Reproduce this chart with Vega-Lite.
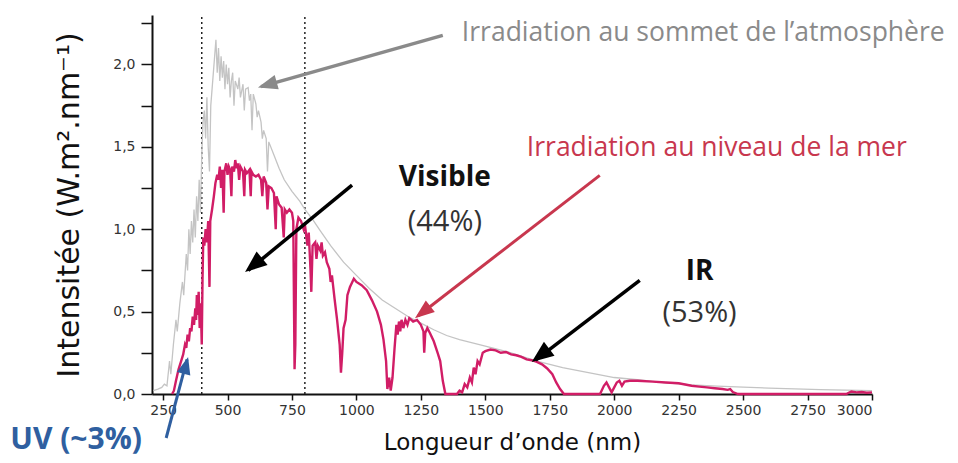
{
  "$schema": "https://vega.github.io/schema/vega-lite/v6.json",
  "width": 720,
  "height": 379,
  "autosize": "none",
  "padding": {"left": 152, "top": 15, "right": 86, "bottom": 69},
  "background": "white",
  "config": {
    "view": {"stroke": null},
    "axis": {"grid": false, "domainColor": "#111", "domainWidth": 2, "tickColor": "#111", "tickWidth": 1.5, "labelFont": "DejaVu Sans", "labelFontSize": 14, "labelColor": "#333", "titleFont": "DejaVu Sans", "titleFontWeight": "normal", "titleColor": "#111", "labelOverlap": false}
  },
  "datasets": {
    "spectre": [
      {"s": "sommet", "x": 212, "y": 0.02}, {"s": "sommet", "x": 230, "y": 0.03}, {"s": "sommet", "x": 245, "y": 0.04}, {"s": "sommet", "x": 255, "y": 0.06}, {"s": "sommet", "x": 265, "y": 0.05}, {"s": "sommet", "x": 275, "y": 0.2}, {"s": "sommet", "x": 280, "y": 0.12}, {"s": "sommet", "x": 290, "y": 0.3}, {"s": "sommet", "x": 300, "y": 0.45}, {"s": "sommet", "x": 305, "y": 0.38}, {"s": "sommet", "x": 315, "y": 0.55}, {"s": "sommet", "x": 325, "y": 0.68}, {"s": "sommet", "x": 330, "y": 0.6}, {"s": "sommet", "x": 340, "y": 0.85}, {"s": "sommet", "x": 345, "y": 0.75}, {"s": "sommet", "x": 350, "y": 1.0}, {"s": "sommet", "x": 355, "y": 0.85}, {"s": "sommet", "x": 360, "y": 1.05}, {"s": "sommet", "x": 365, "y": 0.92}, {"s": "sommet", "x": 370, "y": 1.12}, {"s": "sommet", "x": 375, "y": 0.95}, {"s": "sommet", "x": 380, "y": 1.2}, {"s": "sommet", "x": 385, "y": 1.05}, {"s": "sommet", "x": 390, "y": 1.3}, {"s": "sommet", "x": 395, "y": 1.1}, {"s": "sommet", "x": 400, "y": 1.45}, {"s": "sommet", "x": 405, "y": 1.65}, {"s": "sommet", "x": 410, "y": 1.72}, {"s": "sommet", "x": 415, "y": 1.55}, {"s": "sommet", "x": 420, "y": 1.8}, {"s": "sommet", "x": 425, "y": 1.5}, {"s": "sommet", "x": 430, "y": 1.35}, {"s": "sommet", "x": 435, "y": 1.75}, {"s": "sommet", "x": 440, "y": 1.85}, {"s": "sommet", "x": 450, "y": 2.05}, {"s": "sommet", "x": 455, "y": 2.15}, {"s": "sommet", "x": 460, "y": 1.95}, {"s": "sommet", "x": 465, "y": 2.1}, {"s": "sommet", "x": 470, "y": 1.9}, {"s": "sommet", "x": 475, "y": 2.05}, {"s": "sommet", "x": 480, "y": 1.92}, {"s": "sommet", "x": 485, "y": 2.02}, {"s": "sommet", "x": 490, "y": 1.85}, {"s": "sommet", "x": 495, "y": 2.0}, {"s": "sommet", "x": 500, "y": 1.88}, {"s": "sommet", "x": 505, "y": 1.98}, {"s": "sommet", "x": 510, "y": 1.8}, {"s": "sommet", "x": 515, "y": 1.9}, {"s": "sommet", "x": 520, "y": 1.95}, {"s": "sommet", "x": 525, "y": 1.75}, {"s": "sommet", "x": 530, "y": 1.9}, {"s": "sommet", "x": 540, "y": 1.85}, {"s": "sommet", "x": 545, "y": 1.92}, {"s": "sommet", "x": 550, "y": 1.8}, {"s": "sommet", "x": 560, "y": 1.88}, {"s": "sommet", "x": 565, "y": 1.72}, {"s": "sommet", "x": 570, "y": 1.85}, {"s": "sommet", "x": 580, "y": 1.86}, {"s": "sommet", "x": 585, "y": 1.78}, {"s": "sommet", "x": 590, "y": 1.82}, {"s": "sommet", "x": 595, "y": 1.6}, {"s": "sommet", "x": 600, "y": 1.82}, {"s": "sommet", "x": 610, "y": 1.76}, {"s": "sommet", "x": 615, "y": 1.68}, {"s": "sommet", "x": 620, "y": 1.72}, {"s": "sommet", "x": 630, "y": 1.65}, {"s": "sommet", "x": 635, "y": 1.55}, {"s": "sommet", "x": 640, "y": 1.6}, {"s": "sommet", "x": 650, "y": 1.55}, {"s": "sommet", "x": 655, "y": 1.35}, {"s": "sommet", "x": 660, "y": 1.53}, {"s": "sommet", "x": 680, "y": 1.45}, {"s": "sommet", "x": 700, "y": 1.37}, {"s": "sommet", "x": 720, "y": 1.3}, {"s": "sommet", "x": 750, "y": 1.23}, {"s": "sommet", "x": 780, "y": 1.17}, {"s": "sommet", "x": 800, "y": 1.12}, {"s": "sommet", "x": 830, "y": 1.06}, {"s": "sommet", "x": 860, "y": 0.99}, {"s": "sommet", "x": 900, "y": 0.9}, {"s": "sommet", "x": 950, "y": 0.8}, {"s": "sommet", "x": 1000, "y": 0.72}, {"s": "sommet", "x": 1050, "y": 0.64}, {"s": "sommet", "x": 1100, "y": 0.57}, {"s": "sommet", "x": 1150, "y": 0.52}, {"s": "sommet", "x": 1200, "y": 0.47}, {"s": "sommet", "x": 1250, "y": 0.43}, {"s": "sommet", "x": 1300, "y": 0.39}, {"s": "sommet", "x": 1350, "y": 0.355}, {"s": "sommet", "x": 1400, "y": 0.33}, {"s": "sommet", "x": 1450, "y": 0.31}, {"s": "sommet", "x": 1500, "y": 0.29}, {"s": "sommet", "x": 1600, "y": 0.25}, {"s": "sommet", "x": 1700, "y": 0.2}, {"s": "sommet", "x": 1800, "y": 0.16}, {"s": "sommet", "x": 1900, "y": 0.13}, {"s": "sommet", "x": 2000, "y": 0.1}, {"s": "sommet", "x": 2100, "y": 0.085}, {"s": "sommet", "x": 2200, "y": 0.068}, {"s": "sommet", "x": 2300, "y": 0.055}, {"s": "sommet", "x": 2400, "y": 0.048}, {"s": "sommet", "x": 2500, "y": 0.042}, {"s": "sommet", "x": 2600, "y": 0.036}, {"s": "sommet", "x": 2700, "y": 0.031}, {"s": "sommet", "x": 2800, "y": 0.027}, {"s": "sommet", "x": 2900, "y": 0.024}, {"s": "sommet", "x": 3000, "y": 0.02},
      {"s": "mer", "x": 285, "y": 0}, {"s": "mer", "x": 292, "y": 0.02}, {"s": "mer", "x": 300, "y": 0.08}, {"s": "mer", "x": 310, "y": 0.15}, {"s": "mer", "x": 320, "y": 0.2}, {"s": "mer", "x": 328, "y": 0.24}, {"s": "mer", "x": 335, "y": 0.3}, {"s": "mer", "x": 340, "y": 0.28}, {"s": "mer", "x": 345, "y": 0.36}, {"s": "mer", "x": 350, "y": 0.32}, {"s": "mer", "x": 355, "y": 0.4}, {"s": "mer", "x": 360, "y": 0.38}, {"s": "mer", "x": 365, "y": 0.47}, {"s": "mer", "x": 370, "y": 0.42}, {"s": "mer", "x": 375, "y": 0.52}, {"s": "mer", "x": 378, "y": 0.45}, {"s": "mer", "x": 381, "y": 0.6}, {"s": "mer", "x": 385, "y": 0.48}, {"s": "mer", "x": 388, "y": 0.62}, {"s": "mer", "x": 392, "y": 0.4}, {"s": "mer", "x": 396, "y": 0.55}, {"s": "mer", "x": 400, "y": 0.3}, {"s": "mer", "x": 403, "y": 0.7}, {"s": "mer", "x": 406, "y": 0.95}, {"s": "mer", "x": 410, "y": 0.9}, {"s": "mer", "x": 415, "y": 1.0}, {"s": "mer", "x": 420, "y": 0.92}, {"s": "mer", "x": 425, "y": 1.05}, {"s": "mer", "x": 430, "y": 0.65}, {"s": "mer", "x": 433, "y": 1.05}, {"s": "mer", "x": 440, "y": 1.12}, {"s": "mer", "x": 447, "y": 1.2}, {"s": "mer", "x": 453, "y": 1.28}, {"s": "mer", "x": 460, "y": 1.33}, {"s": "mer", "x": 465, "y": 1.3}, {"s": "mer", "x": 470, "y": 1.38}, {"s": "mer", "x": 475, "y": 1.25}, {"s": "mer", "x": 480, "y": 1.36}, {"s": "mer", "x": 485, "y": 1.1}, {"s": "mer", "x": 488, "y": 1.35}, {"s": "mer", "x": 495, "y": 1.4}, {"s": "mer", "x": 500, "y": 1.33}, {"s": "mer", "x": 505, "y": 1.38}, {"s": "mer", "x": 510, "y": 1.36}, {"s": "mer", "x": 515, "y": 1.2}, {"s": "mer", "x": 518, "y": 1.38}, {"s": "mer", "x": 525, "y": 1.35}, {"s": "mer", "x": 530, "y": 1.42}, {"s": "mer", "x": 535, "y": 1.37}, {"s": "mer", "x": 540, "y": 1.4}, {"s": "mer", "x": 545, "y": 1.3}, {"s": "mer", "x": 550, "y": 1.38}, {"s": "mer", "x": 560, "y": 1.35}, {"s": "mer", "x": 565, "y": 1.2}, {"s": "mer", "x": 568, "y": 1.36}, {"s": "mer", "x": 575, "y": 1.34}, {"s": "mer", "x": 585, "y": 1.36}, {"s": "mer", "x": 590, "y": 1.2}, {"s": "mer", "x": 593, "y": 1.35}, {"s": "mer", "x": 600, "y": 1.33}, {"s": "mer", "x": 610, "y": 1.32}, {"s": "mer", "x": 620, "y": 1.33}, {"s": "mer", "x": 630, "y": 1.3}, {"s": "mer", "x": 635, "y": 1.2}, {"s": "mer", "x": 640, "y": 1.32}, {"s": "mer", "x": 650, "y": 1.28}, {"s": "mer", "x": 655, "y": 1.12}, {"s": "mer", "x": 660, "y": 1.26}, {"s": "mer", "x": 670, "y": 1.25}, {"s": "mer", "x": 680, "y": 1.22}, {"s": "mer", "x": 687, "y": 1.0}, {"s": "mer", "x": 690, "y": 1.2}, {"s": "mer", "x": 700, "y": 1.15}, {"s": "mer", "x": 710, "y": 1.13}, {"s": "mer", "x": 718, "y": 0.95}, {"s": "mer", "x": 722, "y": 1.12}, {"s": "mer", "x": 730, "y": 1.1}, {"s": "mer", "x": 740, "y": 1.12}, {"s": "mer", "x": 750, "y": 1.1}, {"s": "mer", "x": 755, "y": 1.05}, {"s": "mer", "x": 760, "y": 0.15}, {"s": "mer", "x": 763, "y": 0.3}, {"s": "mer", "x": 767, "y": 1.0}, {"s": "mer", "x": 775, "y": 1.07}, {"s": "mer", "x": 785, "y": 1.05}, {"s": "mer", "x": 795, "y": 1.0}, {"s": "mer", "x": 800, "y": 1.03}, {"s": "mer", "x": 810, "y": 0.9}, {"s": "mer", "x": 815, "y": 0.98}, {"s": "mer", "x": 822, "y": 0.75}, {"s": "mer", "x": 825, "y": 0.62}, {"s": "mer", "x": 830, "y": 0.9}, {"s": "mer", "x": 840, "y": 0.92}, {"s": "mer", "x": 845, "y": 0.82}, {"s": "mer", "x": 850, "y": 0.9}, {"s": "mer", "x": 860, "y": 0.87}, {"s": "mer", "x": 865, "y": 0.92}, {"s": "mer", "x": 870, "y": 0.84}, {"s": "mer", "x": 878, "y": 0.86}, {"s": "mer", "x": 885, "y": 0.8}, {"s": "mer", "x": 895, "y": 0.76}, {"s": "mer", "x": 900, "y": 0.68}, {"s": "mer", "x": 905, "y": 0.72}, {"s": "mer", "x": 915, "y": 0.58}, {"s": "mer", "x": 925, "y": 0.45}, {"s": "mer", "x": 935, "y": 0.3}, {"s": "mer", "x": 940, "y": 0.13}, {"s": "mer", "x": 945, "y": 0.25}, {"s": "mer", "x": 950, "y": 0.4}, {"s": "mer", "x": 958, "y": 0.45}, {"s": "mer", "x": 965, "y": 0.6}, {"s": "mer", "x": 975, "y": 0.65}, {"s": "mer", "x": 990, "y": 0.7}, {"s": "mer", "x": 1000, "y": 0.68}, {"s": "mer", "x": 1020, "y": 0.66}, {"s": "mer", "x": 1040, "y": 0.63}, {"s": "mer", "x": 1060, "y": 0.57}, {"s": "mer", "x": 1080, "y": 0.5}, {"s": "mer", "x": 1095, "y": 0.42}, {"s": "mer", "x": 1105, "y": 0.33}, {"s": "mer", "x": 1115, "y": 0.2}, {"s": "mer", "x": 1120, "y": 0.03}, {"s": "mer", "x": 1127, "y": 0.1}, {"s": "mer", "x": 1133, "y": 0.02}, {"s": "mer", "x": 1140, "y": 0.1}, {"s": "mer", "x": 1148, "y": 0.28}, {"s": "mer", "x": 1152, "y": 0.36}, {"s": "mer", "x": 1155, "y": 0.42}, {"s": "mer", "x": 1160, "y": 0.36}, {"s": "mer", "x": 1165, "y": 0.44}, {"s": "mer", "x": 1170, "y": 0.38}, {"s": "mer", "x": 1175, "y": 0.45}, {"s": "mer", "x": 1182, "y": 0.4}, {"s": "mer", "x": 1190, "y": 0.45}, {"s": "mer", "x": 1198, "y": 0.42}, {"s": "mer", "x": 1205, "y": 0.46}, {"s": "mer", "x": 1220, "y": 0.44}, {"s": "mer", "x": 1235, "y": 0.45}, {"s": "mer", "x": 1250, "y": 0.42}, {"s": "mer", "x": 1260, "y": 0.38}, {"s": "mer", "x": 1263, "y": 0.25}, {"s": "mer", "x": 1267, "y": 0.37}, {"s": "mer", "x": 1275, "y": 0.4}, {"s": "mer", "x": 1285, "y": 0.37}, {"s": "mer", "x": 1300, "y": 0.32}, {"s": "mer", "x": 1315, "y": 0.25}, {"s": "mer", "x": 1325, "y": 0.2}, {"s": "mer", "x": 1335, "y": 0.08}, {"s": "mer", "x": 1345, "y": 0.0}, {"s": "mer", "x": 1390, "y": 0.0}, {"s": "mer", "x": 1400, "y": 0.02}, {"s": "mer", "x": 1410, "y": 0.01}, {"s": "mer", "x": 1420, "y": 0.06}, {"s": "mer", "x": 1430, "y": 0.04}, {"s": "mer", "x": 1440, "y": 0.1}, {"s": "mer", "x": 1448, "y": 0.07}, {"s": "mer", "x": 1455, "y": 0.16}, {"s": "mer", "x": 1462, "y": 0.12}, {"s": "mer", "x": 1470, "y": 0.2}, {"s": "mer", "x": 1478, "y": 0.18}, {"s": "mer", "x": 1490, "y": 0.25}, {"s": "mer", "x": 1500, "y": 0.26}, {"s": "mer", "x": 1520, "y": 0.27}, {"s": "mer", "x": 1540, "y": 0.265}, {"s": "mer", "x": 1560, "y": 0.25}, {"s": "mer", "x": 1580, "y": 0.255}, {"s": "mer", "x": 1600, "y": 0.24}, {"s": "mer", "x": 1620, "y": 0.235}, {"s": "mer", "x": 1640, "y": 0.225}, {"s": "mer", "x": 1660, "y": 0.21}, {"s": "mer", "x": 1680, "y": 0.205}, {"s": "mer", "x": 1700, "y": 0.195}, {"s": "mer", "x": 1720, "y": 0.18}, {"s": "mer", "x": 1740, "y": 0.155}, {"s": "mer", "x": 1760, "y": 0.12}, {"s": "mer", "x": 1775, "y": 0.07}, {"s": "mer", "x": 1790, "y": 0.03}, {"s": "mer", "x": 1805, "y": 0.0}, {"s": "mer", "x": 1945, "y": 0.0}, {"s": "mer", "x": 1960, "y": 0.05}, {"s": "mer", "x": 1970, "y": 0.07}, {"s": "mer", "x": 1980, "y": 0.04}, {"s": "mer", "x": 1990, "y": 0.01}, {"s": "mer", "x": 2000, "y": 0.04}, {"s": "mer", "x": 2010, "y": 0.07}, {"s": "mer", "x": 2020, "y": 0.08}, {"s": "mer", "x": 2030, "y": 0.05}, {"s": "mer", "x": 2040, "y": 0.075}, {"s": "mer", "x": 2060, "y": 0.08}, {"s": "mer", "x": 2090, "y": 0.08}, {"s": "mer", "x": 2150, "y": 0.075}, {"s": "mer", "x": 2200, "y": 0.07}, {"s": "mer", "x": 2250, "y": 0.065}, {"s": "mer", "x": 2300, "y": 0.05}, {"s": "mer", "x": 2330, "y": 0.045}, {"s": "mer", "x": 2360, "y": 0.04}, {"s": "mer", "x": 2390, "y": 0.035}, {"s": "mer", "x": 2420, "y": 0.03}, {"s": "mer", "x": 2440, "y": 0.025}, {"s": "mer", "x": 2450, "y": 0.03}, {"s": "mer", "x": 2460, "y": 0.012}, {"s": "mer", "x": 2480, "y": 0.0}, {"s": "mer", "x": 2900, "y": 0.0}, {"s": "mer", "x": 2920, "y": 0.015}, {"s": "mer", "x": 2940, "y": 0.01}, {"s": "mer", "x": 2960, "y": 0.012}, {"s": "mer", "x": 2980, "y": 0.008}, {"s": "mer", "x": 3000, "y": 0.01}
    ]
  },
  "layer": [
    {
      "data": {"values": [{"x": 400}, {"x": 800}]},
      "mark": {"type": "rule", "color": "#222", "strokeWidth": 1.5, "strokeDash": [2, 3]},
      "encoding": {
        "x": {"field": "x", "type": "quantitative", "scale": {"domain": [207, 3000], "nice": false, "zero": false},
          "axis": {"values": [250, 375, 500, 625, 750, 875, 1000, 1125, 1250, 1375, 1500, 1625, 1750, 1875, 2000, 2125, 2250, 2375, 2500, 2625, 2750, 2875, 3000],
            "labelExpr": "datum.value % 250 == 0 ? datum.value : ''", "tickSize": 6, "labelPadding": 3, "labelFontSize": 14,
            "title": "Longueur d’onde (nm)", "titleFontSize": 23, "titlePadding": 14}},
        "y": {"datum": 0, "type": "quantitative", "scale": {"domain": [0, 2.3], "nice": false},
          "axis": {"values": [0, 0.25, 0.5, 0.75, 1, 1.25, 1.5, 1.75, 2, 2.25],
            "labelExpr": "datum.value % 0.5 == 0 ? replace(format(datum.value, '.1f'), '.', ',') : ''", "tickSize": 11, "labelPadding": 6, "labelFontSize": 14,
            "title": "Intensitée (W.m².nm⁻¹)", "titleFontSize": 30, "titlePadding": 28}},
        "y2": {"datum": 2.3}
      }
    },
    {
      "data": {"name": "spectre"},
      "transform": [{"filter": "datum.s == 'sommet'"}],
      "mark": {"type": "line", "color": "#c4c4c4", "strokeWidth": 1.3},
      "encoding": {"x": {"field": "x", "type": "quantitative"}, "y": {"field": "y", "type": "quantitative"}}
    },
    {
      "data": {"name": "spectre"},
      "transform": [{"filter": "datum.s == 'mer'"}],
      "mark": {"type": "line", "color": "#d11d66", "strokeWidth": 2.4},
      "encoding": {"x": {"field": "x", "type": "quantitative"}, "y": {"field": "y", "type": "quantitative"}}
    },
    {
      "data": {"values": [{"x": 1335, "y": 2.176, "x2": 630, "y2": 1.865}]},
      "mark": {"type": "rule", "color": "#8a8a8a", "strokeWidth": 3.5},
      "encoding": {"x": {"field": "x", "type": "quantitative"}, "y": {"field": "y", "type": "quantitative"}, "x2": {"field": "x2"}, "y2": {"field": "y2"}}
    },
    {
      "data": {"values": [{"x": 618, "y": 1.86}]},
      "mark": {"type": "point", "filled": true, "opacity": 1, "color": "#8a8a8a", "shape": "M0,0 L-0.75,2 L0.75,2 Z", "size": 380, "angle": 254},
      "encoding": {"x": {"field": "x", "type": "quantitative"}, "y": {"field": "y", "type": "quantitative"}}
    },
    {
      "data": {"values": [{"x": 1944, "y": 1.327, "x2": 1240, "y2": 0.475}]},
      "mark": {"type": "rule", "color": "#c8374e", "strokeWidth": 3},
      "encoding": {"x": {"field": "x", "type": "quantitative"}, "y": {"field": "y", "type": "quantitative"}, "x2": {"field": "x2"}, "y2": {"field": "y2"}}
    },
    {
      "data": {"values": [{"x": 1227, "y": 0.46}]},
      "mark": {"type": "point", "filled": true, "opacity": 1, "color": "#c8374e", "shape": "M0,0 L-0.75,2 L0.75,2 Z", "size": 380, "angle": 232},
      "encoding": {"x": {"field": "x", "type": "quantitative"}, "y": {"field": "y", "type": "quantitative"}}
    },
    {
      "data": {"values": [{"x": 983, "y": 1.267, "x2": 580, "y2": 0.75}, {"x": 2099, "y": 0.69, "x2": 1695, "y2": 0.205}]},
      "mark": {"type": "rule", "color": "#000", "strokeWidth": 3.5},
      "encoding": {"x": {"field": "x", "type": "quantitative"}, "y": {"field": "y", "type": "quantitative"}, "x2": {"field": "x2"}, "y2": {"field": "y2"}}
    },
    {
      "data": {"values": [{"x": 568, "y": 0.74}]},
      "mark": {"type": "point", "filled": true, "opacity": 1, "color": "#000", "shape": "M0,0 L-0.8,2 L0.8,2 Z", "size": 480, "angle": 231},
      "encoding": {"x": {"field": "x", "type": "quantitative"}, "y": {"field": "y", "type": "quantitative"}}
    },
    {
      "data": {"values": [{"x": 1680, "y": 0.194}]},
      "mark": {"type": "point", "filled": true, "opacity": 1, "color": "#000", "shape": "M0,0 L-0.8,2 L0.8,2 Z", "size": 480, "angle": 233},
      "encoding": {"x": {"field": "x", "type": "quantitative"}, "y": {"field": "y", "type": "quantitative"}}
    },
    {
      "data": {"values": [{"x": 262, "y": -0.267, "x2": 343, "y2": 0.21}]},
      "mark": {"type": "rule", "color": "#2f5fa0", "strokeWidth": 3, "clip": false},
      "encoding": {"x": {"field": "x", "type": "quantitative"}, "y": {"field": "y", "type": "quantitative"}, "x2": {"field": "x2"}, "y2": {"field": "y2"}}
    },
    {
      "data": {"values": [{"x": 347, "y": 0.224}]},
      "mark": {"type": "point", "filled": true, "opacity": 1, "color": "#2f5fa0", "shape": "M0,0 L-0.8,2 L0.8,2 Z", "size": 300, "angle": 15},
      "encoding": {"x": {"field": "x", "type": "quantitative"}, "y": {"field": "y", "type": "quantitative"}}
    },
    {
      "data": {"values": [{"label": "Irradiation au sommet de l’atmosphère", "x": 1409, "y": 2.19}]},
      "mark": {"type": "text", "align": "left", "baseline": "middle", "font": "Open Sans", "fontSize": 26.5, "color": "#8a8a8a"},
      "encoding": {"x": {"field": "x", "type": "quantitative"}, "y": {"field": "y", "type": "quantitative"}, "text": {"field": "label"}}
    },
    {
      "data": {"values": [{"label": "Irradiation au niveau de la mer", "x": 1661, "y": 1.49}]},
      "mark": {"type": "text", "align": "left", "baseline": "middle", "font": "Open Sans", "fontSize": 26.5, "color": "#c8374e"},
      "encoding": {"x": {"field": "x", "type": "quantitative"}, "y": {"field": "y", "type": "quantitative"}, "text": {"field": "label"}}
    },
    {
      "data": {"values": [{"label": "Visible", "x": 1343, "y": 1.31}, {"label": "IR", "x": 2331, "y": 0.74}]},
      "mark": {"type": "text", "align": "center", "baseline": "middle", "font": "Open Sans", "fontSize": 28, "fontWeight": "bold", "color": "#111"},
      "encoding": {"x": {"field": "x", "type": "quantitative"}, "y": {"field": "y", "type": "quantitative"}, "text": {"field": "label"}}
    },
    {
      "data": {"values": [{"label": "(44%)", "x": 1343, "y": 1.045}, {"label": "(53%)", "x": 2331, "y": 0.49}]},
      "mark": {"type": "text", "align": "center", "baseline": "middle", "font": "Open Sans", "fontSize": 29, "color": "#333"},
      "encoding": {"x": {"field": "x", "type": "quantitative"}, "y": {"field": "y", "type": "quantitative"}, "text": {"field": "label"}}
    },
    {
      "data": {"values": [{"label": "UV (~3%)", "x": -343, "y": -0.279}]},
      "mark": {"type": "text", "align": "left", "baseline": "middle", "font": "Open Sans", "fontSize": 30, "fontWeight": "bold", "color": "#2f5fa0"},
      "encoding": {"x": {"field": "x", "type": "quantitative"}, "y": {"field": "y", "type": "quantitative"}, "text": {"field": "label"}}
    }
  ]
}
